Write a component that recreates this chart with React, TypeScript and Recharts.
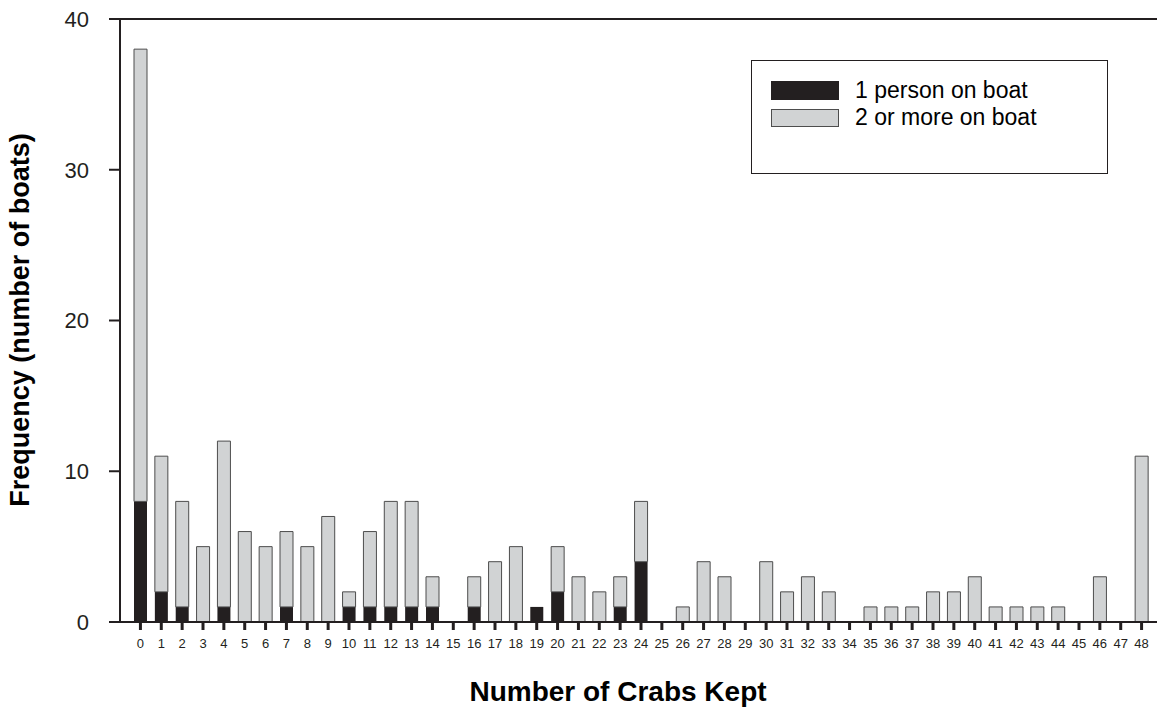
import React from 'react';
import { BarChart, Bar, XAxis, YAxis, ReferenceLine, Legend, Label } from 'recharts';

const crabsKept = [0, 1, 2, 3, 4, 5, 6, 7, 8, 9, 10, 11, 12, 13, 14, 15, 16, 17, 18, 19, 20, 21, 22, 23, 24, 25, 26, 27, 28, 29, 30, 31, 32, 33, 34, 35, 36, 37, 38, 39, 40, 41, 42, 43, 44, 45, 46, 47, 48];
const onePerson = [8, 2, 1, 0, 1, 0, 0, 1, 0, 0, 1, 1, 1, 1, 1, 0, 1, 0, 0, 1, 2, 0, 0, 1, 4, 0, 0, 0, 0, 0, 0, 0, 0, 0, 0, 0, 0, 0, 0, 0, 0, 0, 0, 0, 0, 0, 0, 0, 0];
const twoOrMore = [30, 9, 7, 5, 11, 6, 5, 5, 5, 7, 1, 5, 7, 7, 2, 0, 2, 4, 5, 0, 3, 3, 2, 2, 4, 0, 1, 4, 3, 0, 4, 2, 3, 2, 0, 1, 1, 1, 2, 2, 3, 1, 1, 1, 1, 0, 3, 0, 11];
const yTicks = [0, 10, 20, 30, 40];
const seriesNames = ['1 person on boat', '2 or more on boat'];

const data = crabsKept.map((c, i) => ({ crabs: c, one: onePerson[i], two: twoOrMore[i] }));

const FONT = 'Arial, "Liberation Sans", Helvetica, sans-serif';
const BLACK = '#231f20';
const GRAY = '#d1d3d4';
const EDGE = '#4d4d4d';

function LegendBox(props: any) {
  const payload = props.payload || [];
  return (
    <div
      style={{
        position: 'relative',
        width: 357,
        height: 114,
        border: '1px solid ' + BLACK,
        boxSizing: 'border-box',
        background: '#fff',
        fontFamily: FONT,
      }}
    >
      {payload.map((p: any, i: number) => (
        <div
          key={i}
          style={{ position: 'absolute', left: 19, top: 20 + i * 27, height: 19, display: 'flex', alignItems: 'center', whiteSpace: 'nowrap' }}
        >
          <span
            style={{
              display: 'inline-block',
              width: 68,
              height: i === 0 ? 19 : 18,
              background: p.color,
              border: i === 1 ? '1px solid ' + EDGE : 'none',
              boxSizing: 'border-box',
            }}
          />
          <span style={{ marginLeft: 16, fontSize: 23, color: '#000', lineHeight: '19px' }}>{p.value}</span>
        </div>
      ))}
    </div>
  );
}

export default function App() {
  return (
    <div style={{ position: 'absolute', left: 0, top: 0, background: '#fff' }}>
      <BarChart width={1157} height={708} data={data} margin={{ top: 19, right: 0, bottom: 0, left: 0 }} barSize={13}>
        <XAxis
          dataKey="crabs"
          interval={0}
          height={86}
          padding={{ left: 10, right: 5 }}
          tickSize={8}
          tickMargin={9}
          axisLine={{ stroke: BLACK, strokeWidth: 2 }}
          tickLine={{ stroke: BLACK, strokeWidth: 3 }}
          tick={{ fontSize: 13, fill: BLACK, fontFamily: FONT }}
        >
          <Label
            content={() => (
              <text x={618} y={701} textAnchor="middle" fontSize={28} fontWeight="bold" fontFamily={FONT} fill="#000">
                Number of Crabs Kept
              </text>
            )}
          />
        </XAxis>
        <YAxis
          width={120}
          domain={[0, 40]}
          ticks={yTicks}
          tickSize={11}
          tickMargin={20}
          axisLine={{ stroke: BLACK, strokeWidth: 2 }}
          tickLine={{ stroke: BLACK, strokeWidth: 2 }}
          tick={{ fontSize: 22, fill: BLACK, fontFamily: FONT }}
        >
          <Label
            content={() => (
              <text
                x={0}
                y={0}
                transform="translate(29,320) rotate(-90)"
                textAnchor="middle"
                fontSize={27}
                fontWeight="bold"
                fontFamily={FONT}
                fill="#000"
              >
                Frequency (number of boats)
              </text>
            )}
          />
        </YAxis>
        <ReferenceLine y={40} stroke={BLACK} strokeWidth={2} />
        <Bar dataKey="one" name={seriesNames[0]} stackId="a" fill={BLACK} isAnimationActive={false} />
        <Bar dataKey="two" name={seriesNames[1]} stackId="a" fill={GRAY} stroke={EDGE} strokeWidth={1} isAnimationActive={false} />
        <Legend
          layout="vertical"
          align="center"
          verticalAlign="middle"
          wrapperStyle={{ left: 751, top: 60, width: 'auto' }}
          content={(p: any) => <LegendBox {...p} />}
        />
      </BarChart>
    </div>
  );
}
